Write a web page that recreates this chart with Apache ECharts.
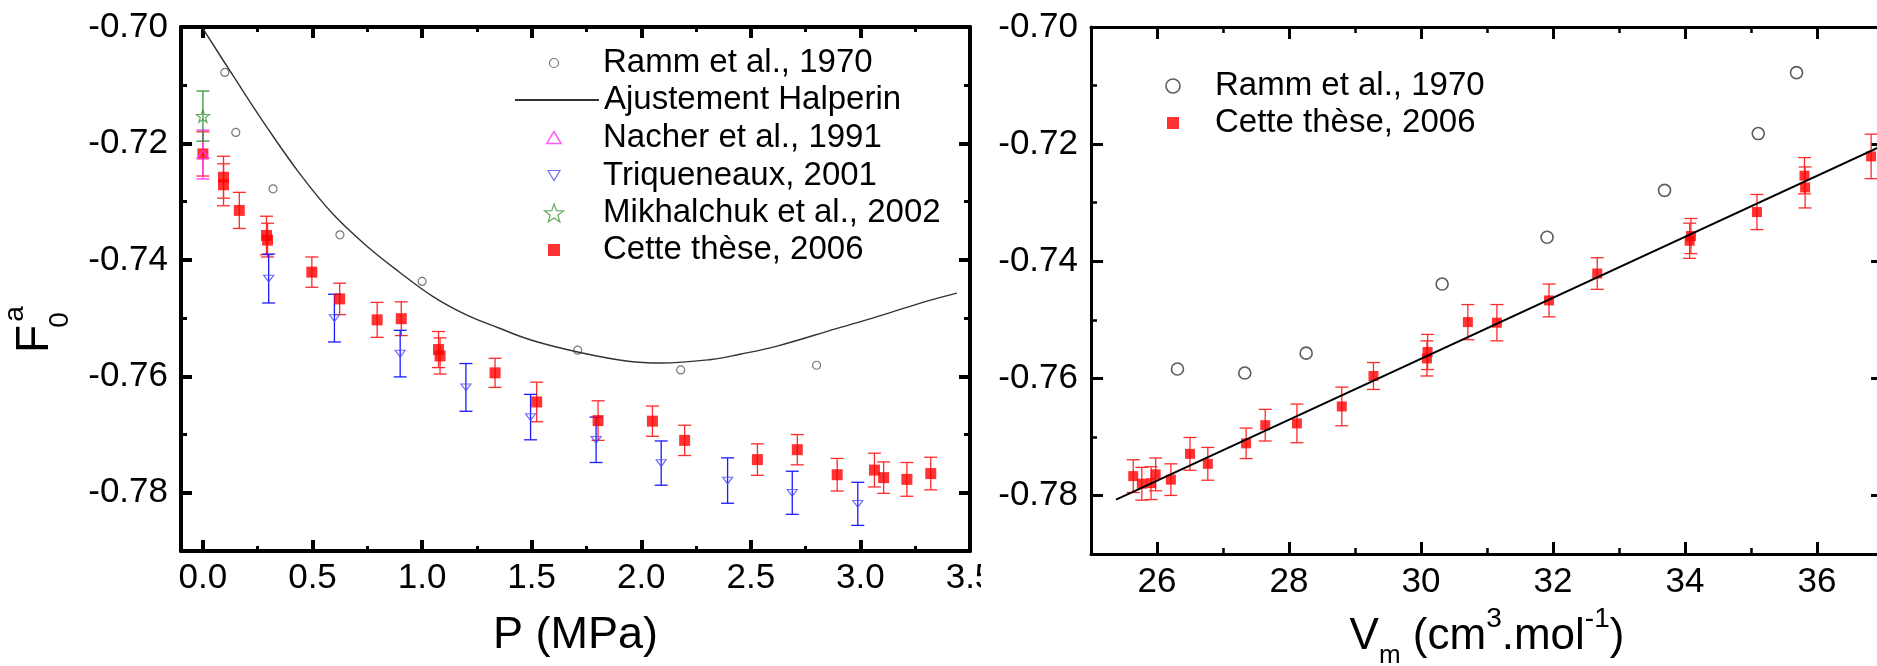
<!DOCTYPE html>
<html><head><meta charset="utf-8">
<script src="https://cdn.jsdelivr.net/npm/echarts@6/dist/echarts.min.js"></script>
<style>html,body{margin:0;padding:0;background:#fff}#c{width:1877px;height:666px}</style>
</head><body><div id="c"></div>
<script>
// ---------- DATA : left panel (F0a vs P, MPa) ----------
const rammLeft = [[0.10,-0.7078],[0.15,-0.7181],[0.32,-0.7278],[0.625,-0.7357],[1.00,-0.7437],[1.71,-0.7555],[2.18,-0.7589],[2.80,-0.7581]];
const halperinFit = [[0.00,-0.7003],[0.14,-0.7085],[0.29,-0.7171],[0.44,-0.7251],[0.59,-0.7320],[0.75,-0.7377],[0.90,-0.7422],[1.05,-0.7463],[1.20,-0.7494],[1.35,-0.7517],[1.50,-0.7538],[1.72,-0.7559],[1.94,-0.7574],[2.09,-0.7577],[2.32,-0.7571],[2.45,-0.7562],[2.62,-0.7548],[2.89,-0.7518],[3.08,-0.7497],[3.32,-0.7469],[3.44,-0.7457]];
// [x, y, error]
const nacher = [[0.00,-0.7219,0.0042]];
const mikhalchuk = [[0.00,-0.7153,0.0043]];
const triqueneaux = [[0.30,-0.7432,0.0042],[0.60,-0.7500,0.0041],[0.90,-0.7561,0.0040],[1.20,-0.7619,0.0041],[1.495,-0.7670,0.0039],[1.794,-0.7709,0.0039],[2.091,-0.7749,0.0038],[2.394,-0.7779,0.0039],[2.689,-0.7800,0.0037],[2.988,-0.7819,0.0037]];
const cetteLeft = [[0.00,-0.7218,0.0038],[0.094,-0.7258,0.0036],[0.094,-0.7271,0.0036],[0.166,-0.7315,0.0031],[0.29,-0.7358,0.0033],[0.295,-0.7366,0.0029],[0.497,-0.7421,0.0026],[0.624,-0.7467,0.0027],[0.795,-0.7503,0.0030],[0.905,-0.7501,0.0029],[1.075,-0.7554,0.0031],[1.082,-0.7565,0.0031],[1.333,-0.7594,0.0025],[1.523,-0.7644,0.0034],[1.803,-0.7676,0.0034],[2.051,-0.7677,0.0026],[2.198,-0.7710,0.0026],[2.530,-0.7743,0.0027],[2.712,-0.7726,0.0026],[2.894,-0.7769,0.0028],[3.064,-0.7761,0.0029],[3.106,-0.7774,0.0027],[3.212,-0.7777,0.0029],[3.321,-0.7767,0.0028]];
// ---------- DATA : right panel (F0a vs Vm) ----------
const rammRight = [[26.31,-0.7584],[27.33,-0.7591],[28.26,-0.7557],[30.32,-0.7439],[31.91,-0.7359],[33.69,-0.7279],[35.11,-0.7182],[35.69,-0.7078]];
const cetteRight = [[25.64,-0.7767,0.0028],[25.77,-0.7780,0.0028],[25.91,-0.7779,0.0028],[25.98,-0.7764,0.0028],[26.21,-0.7773,0.0027],[26.50,-0.7729,0.0028],[26.77,-0.7746,0.0028],[27.35,-0.7711,0.0026],[27.64,-0.7680,0.0027],[28.12,-0.7677,0.0033],[28.80,-0.7648,0.0033],[29.28,-0.7596,0.0023],[30.09,-0.7566,0.0030],[30.10,-0.7555,0.0030],[30.71,-0.7504,0.0030],[31.15,-0.7505,0.0031],[31.94,-0.7467,0.0028],[32.67,-0.7421,0.0027],[34.07,-0.7365,0.0030],[34.09,-0.7357,0.0030],[35.09,-0.7316,0.0030],[35.81,-0.7254,0.0031],[35.82,-0.7274,0.0035],[36.82,-0.7221,0.0038]];
const linearFit = [[25.38,-0.7807],[37.0,-0.7202]];
// ---------- TICKS ----------
const pMajor = [0,0.5,1,1.5,2,2.5,3,3.5];
const pMinor = [0.25,0.75,1.25,1.75,2.25,2.75,3.25];
const vMajor = [26,28,30,32,34,36];
const vMinor = [27,29,31,33,35];
const fMajor = [-0.78,-0.76,-0.74,-0.72,-0.70];
const fMinor = [-0.77,-0.75,-0.73,-0.71];

const FONT = '"Liberation Sans", Arial, sans-serif';
const STAR = 'path://M10,0 L12.35,6.76 L19.51,6.91 L13.8,11.24 L15.88,18.09 L10,14 L4.12,18.09 L6.2,11.24 L0.49,6.91 L7.65,6.76 Z';
const TRI_UP = 'path://M6,0 L12,10 L0,10 Z';
const TRI_DOWN = 'path://M0,0 L12,0 L6,10 Z';
const SQUARE = 'path://M0,0 L12,0 L12,12 L0,12 Z';
const CLEAR = 'rgba(255,255,255,0)';

function axis(gridIndex, position, min, max, ticks, tickLen, lineW, tickW, showLine, labelVals, fmt, margin, extra) {
  return Object.assign({
    type: 'value', gridIndex, position, min, max, scale: true,
    axisLine: {show: showLine, onZero: false, lineStyle: {color: '#000', width: lineW}},
    axisTick: {show: true, inside: true, length: tickLen, customValues: ticks, lineStyle: {color: '#000', width: tickW}},
    axisLabel: labelVals ? {show: true, customValues: labelVals, formatter: fmt, fontSize: 35, color: '#000', fontFamily: FONT, margin: margin} : {show: false},
    splitLine: {show: false}, minorTick: {show: false}, minorSplitLine: {show: false}, axisPointer: {show: false}
  }, extra || {});
}
const f1 = v => Number(v).toFixed(1);
const f2 = v => Number(v).toFixed(2);
const f0 = v => String(Math.round(v));

const xAxes = [
  axis(0,'bottom',-0.1,3.5,pMajor,11,4,4,true,pMajor,f1,10,{
    name: 'P (MPa)', nameLocation: 'middle', nameGap: 62,
    nameTextStyle: {fontSize: 45, color: '#000', fontFamily: FONT}}),
  axis(0,'bottom',-0.1,3.5,pMinor,5,4,3,false,null),
  axis(0,'top',-0.1,3.5,pMajor,11,4,4,true,null),
  axis(0,'top',-0.1,3.5,pMinor,5,4,3,false,null),
  axis(1,'bottom',25,37,vMajor,12,3,3,true,vMajor,f0,11,{
    name: '{v|V}{sub|m}{t| (cm}{sup|3}{t|.mol}{sup|-1}{t|)}', nameLocation: 'middle', nameGap: 50,
    nameTextStyle: {fontSize: 44, color: '#000', fontFamily: FONT, rich: {
      v: {fontSize: 44, lineHeight: 64, fontFamily: FONT, color: '#000'},
      t: {fontSize: 44, lineHeight: 64, fontFamily: FONT, color: '#000'},
      sub: {fontSize: 26, lineHeight: 24, verticalAlign: 'bottom', fontFamily: FONT, color: '#000'},
      sup: {fontSize: 28, lineHeight: 28, verticalAlign: 'top', fontFamily: FONT, color: '#000'}
    }}}),
  axis(1,'bottom',25,37,vMinor,6,3,2.5,false,null),
  axis(1,'top',25,37,vMajor,12,3,3,true,null),
  axis(1,'top',25,37,vMinor,6,3,2.5,false,null)
];
const yAxes = [
  axis(0,'left',-0.79,-0.70,fMajor,11,4,4,true,fMajor,f2,13),
  axis(0,'left',-0.79,-0.70,fMinor,6,4,3,false,null),
  axis(0,'right',-0.79,-0.70,fMajor,11,4,4,true,null),
  axis(0,'right',-0.79,-0.70,fMinor,6,4,3,false,null),
  axis(1,'left',-0.79,-0.70,fMajor,12,3,3,true,fMajor,f2,13),
  axis(1,'left',-0.79,-0.70,fMinor,6,3,2.5,false,null),
  axis(1,'right',-0.79,-0.70,fMajor,12,3,3,true,null),
  axis(1,'right',-0.79,-0.70,fMinor,6,3,2.5,false,null)
];

function errSeries(data, xi, yi, color, cap, lw) {
  return {
    type: 'custom', xAxisIndex: xi, yAxisIndex: yi, data: data, silent: true, clip: true,
    encode: {x: 0, y: 1},
    renderItem: function (params, api) {
      const x = api.value(0), y = api.value(1), e = api.value(2);
      const t = api.coord([x, y + e]), b = api.coord([x, y - e]);
      const st = {stroke: color, lineWidth: lw};
      return {type: 'group', children: [
        {type: 'line', shape: {x1: t[0], y1: t[1], x2: b[0], y2: b[1]}, style: st},
        {type: 'line', shape: {x1: t[0] - cap / 2, y1: t[1], x2: t[0] + cap / 2, y2: t[1]}, style: st},
        {type: 'line', shape: {x1: b[0] - cap / 2, y1: b[1], x2: b[0] + cap / 2, y2: b[1]}, style: st}
      ]};
    }
  };
}
const pts = d => d.map(r => [r[0], r[1]]);

const series = [
  {type: 'scatter', name: 'Ramm et al., 1970', xAxisIndex: 0, yAxisIndex: 0, data: rammLeft, symbol: 'circle', symbolSize: 8,
    itemStyle: {color: CLEAR, borderColor: '#555', borderWidth: 1.2}},
  {type: 'line', name: 'Ajustement Halperin', xAxisIndex: 0, yAxisIndex: 0, data: halperinFit, smooth: 0.4, symbol: 'none',
    lineStyle: {color: '#333', width: 1.4}, itemStyle: {color: '#333'}, clip: true},
  errSeries(cetteLeft, 0, 0, '#ff2a2a', 13, 1.3),
  {type: 'scatter', name: 'Cette thèse, 2006', xAxisIndex: 0, yAxisIndex: 0, data: pts(cetteLeft), symbol: 'rect', symbolSize: 11,
    itemStyle: {color: '#ff0000'}},
  errSeries(triqueneaux, 0, 0, '#1a1aff', 13, 1.3),
  {type: 'scatter', name: 'Triqueneaux, 2001', xAxisIndex: 0, yAxisIndex: 0, data: pts(triqueneaux), symbol: TRI_DOWN, symbolSize: [10, 8], symbolKeepAspect: true,
    itemStyle: {color: CLEAR, borderColor: '#4a4aff', borderWidth: 1.2}},
  errSeries(nacher, 0, 0, '#ff33ff', 13, 1.3),
  {type: 'scatter', name: 'Nacher et al., 1991', xAxisIndex: 0, yAxisIndex: 0, data: pts(nacher), symbol: TRI_UP, symbolSize: [12, 10], symbolKeepAspect: true,
    itemStyle: {color: CLEAR, borderColor: '#ff33ff', borderWidth: 1.5}},
  errSeries(mikhalchuk, 0, 0, '#3a943a', 13, 1.3),
  {type: 'scatter', name: 'Mikhalchuk et al., 2002', xAxisIndex: 0, yAxisIndex: 0, data: pts(mikhalchuk), symbol: STAR, symbolSize: 13, symbolKeepAspect: true,
    itemStyle: {color: CLEAR, borderColor: '#3a943a', borderWidth: 1.2}},
  // right panel
  {type: 'scatter', name: 'Ramm et al., 1970', xAxisIndex: 4, yAxisIndex: 4, data: rammRight, symbol: 'circle', symbolSize: 12,
    itemStyle: {color: CLEAR, borderColor: '#333', borderWidth: 1.6}},
  errSeries(cetteRight, 4, 4, '#ff2a2a', 13, 1.3),
  {type: 'scatter', name: 'Cette thèse, 2006', xAxisIndex: 4, yAxisIndex: 4, data: pts(cetteRight), symbol: 'rect', symbolSize: 10,
    itemStyle: {color: '#ff0000'}},
  {type: 'line', name: 'Ajustement linéaire', xAxisIndex: 4, yAxisIndex: 4, data: linearFit, symbol: 'none',
    lineStyle: {color: '#000', width: 2}, clip: true}
];

// legend rows: the icon's own left edge is placed at `left`
function mkLegend(name, left, cy, itemW, itemH, icon, style) {
  const item = icon ? {name: name, icon: icon} : {name: name};
  const l = {
    data: [item], left: left, top: cy - 17, orient: 'horizontal', padding: 0, itemGap: 0,
    itemWidth: itemW, itemHeight: itemH, selectedMode: false, symbolKeepAspect: true,
    textStyle: {fontSize: 33, color: '#000', fontFamily: FONT, lineHeight: 34}
  };
  if (style) l.itemStyle = style;
  return l;
}
const legends = [
  mkLegend('Ramm et al., 1970', 548.9, 63, 88, 9, 'circle', {color: CLEAR, borderColor: '#555', borderWidth: 1.2}),
  mkLegend('Ajustement Halperin', 514, 100, 84, 14, null, {color: CLEAR, borderColor: CLEAR, borderWidth: 0, opacity: 0}),
  mkLegend('Nacher et al., 1991', 546, 137.5, 88, 12, TRI_UP, {color: CLEAR, borderColor: '#ff33ff', borderWidth: 1.5}),
  mkLegend('Triqueneaux, 2001', 547.4, 175.5, 88, 10, TRI_DOWN, {color: CLEAR, borderColor: '#4a4aff', borderWidth: 1.2}),
  mkLegend('Mikhalchuk et al., 2002', 544, 213, 88, 18, STAR, {color: CLEAR, borderColor: '#3a943a', borderWidth: 1.2}),
  mkLegend('Cette thèse, 2006', 548, 250, 88, 12, SQUARE, {color: '#ff0000', borderWidth: 0}),
  mkLegend('Ramm et al., 1970', 1165.2, 86, 74, 14, 'circle', {color: CLEAR, borderColor: '#333', borderWidth: 1.6}),
  mkLegend('Cette thèse, 2006', 1167, 123, 74, 12, SQUARE, {color: '#ff0000', borderWidth: 0})
];

const chart = echarts.init(document.getElementById('c'), null, {renderer: 'canvas'});
chart.setOption({
  animation: false,
  backgroundColor: '#fff',
  textStyle: {fontFamily: FONT},
  grid: [
    {left: 181, right: 907, top: 27, bottom: 115, outerBoundsMode: 'none', containLabel: false},
    {left: 1091, right: -6, top: 27, bottom: 112, outerBoundsMode: 'none', containLabel: false}
  ],
  xAxis: xAxes,
  yAxis: yAxes,
  legend: legends,
  series: series,
  graphic: [
    {type: 'text', x: 35, y: 339, rotation: Math.PI / 2, z: 50,
      style: {text: 'F', fontSize: 46, fontFamily: FONT, fill: '#000', align: 'center', verticalAlign: 'middle'}},
    {type: 'text', x: 60, y: 320, rotation: Math.PI / 2, z: 50,
      style: {text: '0', fontSize: 28, fontFamily: FONT, fill: '#000', align: 'center', verticalAlign: 'middle'}},
    {type: 'text', x: 15, y: 314, rotation: Math.PI / 2, z: 50,
      style: {text: 'a', fontSize: 28, fontFamily: FONT, fill: '#000', align: 'center', verticalAlign: 'middle'}},
    {type: 'rect', z: 100, shape: {x: 981, y: 558, width: 30, height: 50}, style: {fill: '#fff'}}
  ]
});
</script>
</body></html>
